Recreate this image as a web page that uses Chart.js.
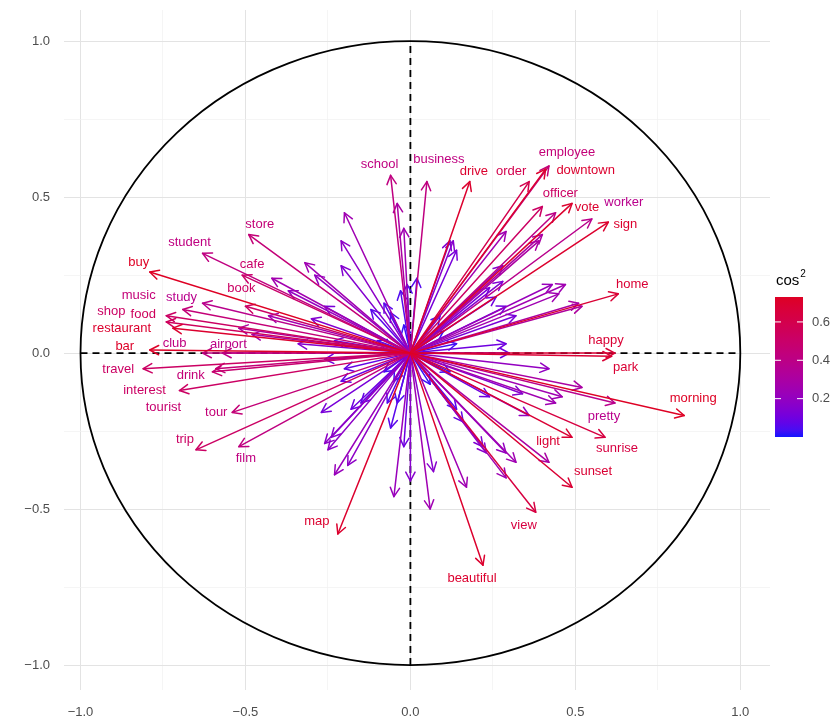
<!DOCTYPE html>
<html>
<head>
<meta charset="utf-8">
<script src="https://cdn.jsdelivr.net/npm/chart.js@4.4.0/dist/chart.umd.min.js"></script>
<style>
  html, body { margin: 0; padding: 0; background: #fff; }
  canvas { display: block; }
</style>
</head>
<body>
<canvas id="pcaChart" width="830" height="720"></canvas>
<script>
// variables with a label
const words = ["school", "business", "drive", "order", "employee", "downtown", "officer", "vote", "worker", "sign",
  "home", "happy", "park", "morning", "pretty", "sunrise", "light", "sunset", "view", "beautiful",
  "map", "trip", "film", "tour", "tourist", "interest", "drink", "travel", "bar", "club",
  "airport", "restaurant", "food", "shop", "music", "study", "book", "cafe", "buy", "student", "store"];
const wordDim1 = [-0.06, 0.05, 0.18, 0.36, 0.42, 0.41, 0.40, 0.49, 0.55, 0.60,
  0.63, 0.62, 0.61, 0.83, 0.62, 0.59, 0.49, 0.49, 0.38, 0.22,
  -0.22, -0.65, -0.52, -0.54, -0.60, -0.70, -0.59, -0.81, -0.79, -0.63,
  -0.57, -0.72, -0.74, -0.74, -0.69, -0.63, -0.50, -0.51, -0.79, -0.63, -0.49];
const wordDim2 = [0.57, 0.55, 0.55, 0.55, 0.60, 0.59, 0.47, 0.48, 0.43, 0.42,
  0.19, 0.00, -0.01, -0.20, -0.16, -0.27, -0.27, -0.43, -0.51, -0.68,
  -0.58, -0.31, -0.30, -0.19, -0.06, -0.12, -0.05, -0.05, 0.01, 0.00,
  0.00, 0.08, 0.10, 0.12, 0.14, 0.16, 0.15, 0.25, 0.26, 0.32, 0.38];
const wordCos2 = [0.42, 0.42, 0.70, 0.60, 0.45, 0.70, 0.52, 0.70, 0.38, 0.70,
  0.68, 0.68, 0.68, 0.73, 0.38, 0.64, 0.68, 0.68, 0.64, 0.70,
  0.70, 0.52, 0.42, 0.45, 0.48, 0.52, 0.45, 0.52, 0.72, 0.42,
  0.40, 0.70, 0.55, 0.52, 0.45, 0.38, 0.52, 0.50, 0.73, 0.42, 0.45];

// variables drawn without a label
const otherDim1 = [-0.04, -0.02, -0.20, -0.21, -0.21, -0.32, -0.29, -0.26, -0.12, -0.08,
  -0.03, -0.06, -0.42, -0.37, -0.30, -0.43, -0.48, -0.52, -0.23, -0.34,
  -0.26, -0.20, -0.21, -0.08, -0.27, -0.18, -0.15, -0.06, -0.24, -0.26,
  -0.25, -0.23, -0.19, -0.05, 0.00, -0.02, -0.04, -0.07,
  0.42, 0.52, 0.46, 0.44, 0.36, 0.24, 0.34, 0.42, 0.32, 0.29,
  0.23, 0.29, 0.17, 0.06, 0.07, 0.14, 0.16, 0.22, 0.30, 0.29,
  0.52, 0.51, 0.47, 0.45, 0.43, 0.29, 0.40, 0.39, 0.28, 0.28,
  0.24, 0.29, 0.32, 0.13, 0.12, 0.14, 0.02, -0.01, 0.44, 0.26,
  0.10, 0.14, -0.10, -0.05, 0.06, 0.12, -0.02, 0.09];
const otherDim2 = [0.48, 0.40, 0.45, 0.36, 0.28, 0.29, 0.25, 0.15, 0.14, 0.16,
  0.20, 0.13, 0.24, 0.20, 0.11, 0.12, 0.06, 0.08, 0.04, 0.03,
  -0.02, -0.05, -0.09, -0.06, -0.19, -0.18, -0.16, -0.24, -0.27, -0.29,
  -0.31, -0.39, -0.36, -0.46, -0.41, -0.30, -0.16, -0.16,
  -0.05, -0.11, -0.14, -0.16, -0.20, -0.14, -0.13, -0.35, -0.35, -0.32,
  -0.32, -0.40, -0.43, -0.50, -0.38, -0.18, -0.22, -0.30, 0.00, 0.03,
  0.15, 0.16, 0.22, 0.19, 0.22, 0.39, 0.38, 0.36, 0.28, 0.23,
  0.21, 0.15, 0.12, 0.36, 0.36, 0.33, 0.24, 0.22, 0.45, 0.18,
  0.07, 0.03, 0.04, -0.09, -0.10, -0.06, 0.09, 0.12];
const otherCos2 = [0.30, 0.25, 0.25, 0.18, 0.15, 0.25, 0.20, 0.12, 0.06, 0.06,
  0.05, 0.04, 0.26, 0.20, 0.15, 0.26, 0.28, 0.32, 0.08, 0.15,
  0.10, 0.08, 0.08, 0.03, 0.12, 0.10, 0.08, 0.06, 0.16, 0.18,
  0.18, 0.22, 0.18, 0.22, 0.16, 0.10, 0.04, 0.05,
  0.20, 0.30, 0.25, 0.25, 0.20, 0.10, 0.16, 0.30, 0.25, 0.20,
  0.16, 0.25, 0.25, 0.25, 0.16, 0.06, 0.08, 0.14, 0.10, 0.10,
  0.32, 0.30, 0.25, 0.25, 0.22, 0.25, 0.30, 0.30, 0.16, 0.14,
  0.12, 0.10, 0.12, 0.16, 0.14, 0.12, 0.05, 0.05, 0.40, 0.10,
  0.02, 0.03, 0.02, 0.02, 0.02, 0.03, 0.02, 0.03];

const axisTicks = [-1, -0.5, 0, 0.5, 1];
const legendTicks = [0.2, 0.4, 0.6];
const cos2Range = [0, 0.73];

// where each label sits next to its arrow tip (px)
const labelNudge = {
  school: [-11, -11], business: [12, -22], drive: [4, -10], order: [-18, -10], employee: [18, -14],
  downtown: [40, 1], officer: [18, -13], vote: [15, 4], worker: [32, -17], sign: [17, 2],
  home: [14, -9], happy: [-9, -13], park: [14, 11], morning: [9, -17], pretty: [-11, 13],
  sunrise: [12, 11], light: [-24, 4], sunset: [21, -16], view: [-12, 13], beautiful: [-11, 13],
  map: [-21, -13], trip: [-11, -10], film: [7, 12], tour: [-16, 0], tourist: [-49, 36],
  interest: [-35, 0], drink: [-25, 7], travel: [-25, 1], bar: [-25, -4], club: [-28, -10],
  airport: [6, -9], restaurant: [-51, 0], food: [-23, -8], shop: [-55, -4], music: [-44, -14],
  study: [-21, -6], book: [-4, -18], cafe: [10, -11], buy: [-11, -10], student: [-13, -11], store: [11, -10]
};

// blue -> crimson gradient, interpolated in Lab like ggplot does
function toLinear(c) { c /= 255; return c <= 0.04045 ? c / 12.92 : Math.pow((c + 0.055) / 1.055, 2.4); }
function fromLinear(c) { const v = c <= 0.0031308 ? 12.92 * c : 1.055 * Math.pow(c, 1 / 2.4) - 0.055; return Math.round(Math.min(1, Math.max(0, v)) * 255); }
function rgbToLab(rgb) {
  const [r, g, b] = rgb.map(toLinear);
  let x = (r * 0.4124 + g * 0.3576 + b * 0.1805) / 0.95047;
  let y = (r * 0.2126 + g * 0.7152 + b * 0.0722);
  let z = (r * 0.0193 + g * 0.1192 + b * 0.9505) / 1.08883;
  const f = (t) => t > 0.008856 ? Math.cbrt(t) : 7.787 * t + 16 / 116;
  x = f(x); y = f(y); z = f(z);
  return [116 * y - 16, 500 * (x - y), 200 * (y - z)];
}
function labToRgb(lab) {
  const fy = (lab[0] + 16) / 116, fx = fy + lab[1] / 500, fz = fy - lab[2] / 200;
  const inv = (t) => t * t * t > 0.008856 ? t * t * t : (t - 16 / 116) / 7.787;
  const x = inv(fx) * 0.95047, y = inv(fy), z = inv(fz) * 1.08883;
  const r = x * 3.2406 + y * -1.5372 + z * -0.4986;
  const g = x * -0.9689 + y * 1.8758 + z * 0.0415;
  const b = x * 0.0557 + y * -0.2040 + z * 1.0570;
  return [fromLinear(r), fromLinear(g), fromLinear(b)];
}
const LOW_LAB = rgbToLab([20, 20, 255]);
const HIGH_LAB = rgbToLab([222, 0, 36]);
function cos2Color(v) {
  let t = (v - cos2Range[0]) / (cos2Range[1] - cos2Range[0]);
  t = Math.max(0, Math.min(1, t));
  const lab = LOW_LAB.map((l, i) => l + (HIGH_LAB[i] - l) * t);
  const c = labToRgb(lab);
  return `rgb(${c[0]},${c[1]},${c[2]})`;
}

const wordPoints = words.map((w, i) => ({ x: wordDim1[i], y: wordDim2[i], label: w, cos2: wordCos2[i] }));
const otherPoints = otherDim1.map((x, i) => ({ x: x, y: otherDim2[i], label: null, cos2: otherCos2[i] }));

function isMajor(v) { return Math.abs(v * 2 - Math.round(v * 2)) < 1e-6; }
function fmt(v) { return v.toFixed(1).replace("-", "\u2212"); }

// circle + dashed axes under the arrows
const circlePlugin = {
  id: "circle",
  beforeDatasetsDraw(chart) {
    const { ctx, scales } = chart;
    const cx = scales.x.getPixelForValue(0), cy = scales.y.getPixelForValue(0);
    const rx = scales.x.getPixelForValue(1) - cx, ry = cy - scales.y.getPixelForValue(1);
    ctx.save();
    ctx.strokeStyle = "#000";
    ctx.lineWidth = 1.8;
    ctx.beginPath();
    ctx.ellipse(cx, cy, rx, ry, 0, 0, Math.PI * 2);
    ctx.stroke();
    ctx.setLineDash([7, 5]);
    ctx.beginPath();
    ctx.moveTo(scales.x.getPixelForValue(-1), cy);
    ctx.lineTo(scales.x.getPixelForValue(1), cy);
    ctx.moveTo(cx, scales.y.getPixelForValue(-1));
    ctx.lineTo(cx, scales.y.getPixelForValue(1));
    ctx.stroke();
    ctx.restore();
  }
};

function drawArrow(ctx, x0, y0, x1, y1, color) {
  const a = Math.atan2(y1 - y0, x1 - x0);
  const L = 10, spread = Math.PI / 6.5;
  ctx.strokeStyle = color;
  ctx.beginPath();
  ctx.moveTo(x0, y0);
  ctx.lineTo(x1, y1);
  ctx.stroke();
  ctx.beginPath();
  ctx.moveTo(x1 - L * Math.cos(a - spread), y1 - L * Math.sin(a - spread));
  ctx.lineTo(x1, y1);
  ctx.lineTo(x1 - L * Math.cos(a + spread), y1 - L * Math.sin(a + spread));
  ctx.stroke();
}

const arrowPlugin = {
  id: "arrows",
  afterDatasetsDraw(chart) {
    const { ctx, scales } = chart;
    const cx = scales.x.getPixelForValue(0), cy = scales.y.getPixelForValue(0);
    const items = [];
    chart.data.datasets.forEach((ds, di) => {
      const meta = chart.getDatasetMeta(di);
      meta.data.forEach((el, j) => items.push({ el: el, d: ds.data[j] }));
    });
    items.sort((a, b) => a.d.cos2 - b.d.cos2);
    ctx.save();
    ctx.lineWidth = 1.5;
    ctx.lineCap = "round";
    ctx.lineJoin = "round";
    items.forEach((it) => drawArrow(ctx, cx, cy, it.el.x, it.el.y, cos2Color(it.d.cos2)));

    ctx.font = '13px "Liberation Sans", Arial, sans-serif';
    ctx.textAlign = "center";
    ctx.textBaseline = "middle";
    items.forEach((it) => {
      if (!it.d.label) return;
      const n = labelNudge[it.d.label] || [0, -10];
      ctx.fillStyle = cos2Color(it.d.cos2);
      ctx.fillText(it.d.label, it.el.x + n[0], it.el.y + n[1]);
    });
    ctx.restore();
  }
};

// colour bar on the right
const legendPlugin = {
  id: "cos2Legend",
  afterDraw(chart) {
    const ctx = chart.ctx;
    const left = 775, width = 28, top = 297, bottom = 437;
    ctx.save();
    const grad = ctx.createLinearGradient(0, bottom, 0, top);
    for (let k = 0; k <= 20; k++) {
      const v = cos2Range[0] + (cos2Range[1] - cos2Range[0]) * k / 20;
      grad.addColorStop(k / 20, cos2Color(v));
    }
    ctx.fillStyle = grad;
    ctx.fillRect(left, top, width, bottom - top);
    ctx.strokeStyle = "#fff";
    ctx.lineWidth = 1;
    ctx.fillStyle = "#4d4d4d";
    ctx.font = '13px "Liberation Sans", Arial, sans-serif';
    ctx.textAlign = "left";
    ctx.textBaseline = "middle";
    legendTicks.forEach((v) => {
      const y = bottom - (v - cos2Range[0]) / (cos2Range[1] - cos2Range[0]) * (bottom - top);
      ctx.beginPath();
      ctx.moveTo(left, y); ctx.lineTo(left + 6, y);
      ctx.moveTo(left + width - 6, y); ctx.lineTo(left + width, y);
      ctx.stroke();
      ctx.fillText(v.toFixed(1), left + width + 9, y);
    });
    ctx.fillStyle = "#000";
    ctx.textBaseline = "alphabetic";
    ctx.font = '15px "Liberation Sans", Arial, sans-serif';
    ctx.fillText("cos", left + 1, 285);
    const w = ctx.measureText("cos").width;
    ctx.font = '10px "Liberation Sans", Arial, sans-serif';
    ctx.fillText("2", left + 1 + w + 1, 277);
    ctx.restore();
  }
};

const gridColor = (c) => isMajor(c.tick.value) ? "#e3e3e3" : "#f1f1f1";
const gridWidth = (c) => isMajor(c.tick.value) ? 1 : 0.7;
const tickFont = { family: '"Liberation Sans", Arial, sans-serif', size: 13 };

new Chart(document.getElementById("pcaChart"), {
  type: "scatter",
  data: {
    datasets: [
      { label: "others", data: otherPoints, pointRadius: 0 },
      { label: "words", data: wordPoints, pointRadius: 0 }
    ]
  },
  options: {
    responsive: false,
    animation: false,
    events: [],
    layout: { padding: { left: 0, right: 60, top: 10, bottom: 0 } },
    plugins: { legend: { display: false }, tooltip: { enabled: false } },
    scales: {
      x: {
        type: "linear",
        min: -1.05,
        max: 1.09,
        afterFit: (s) => { s.height = 30; s.paddingLeft = 0; s.paddingRight = 0; },
        border: { display: false },
        grid: { color: gridColor, lineWidth: gridWidth, drawTicks: false },
        ticks: {
          stepSize: 0.25,
          includeBounds: false,
          autoSkip: false,
          maxRotation: 0,
          padding: 15,
          color: "#4d4d4d",
          font: tickFont,
          callback: (v) => axisTicks.some((t) => Math.abs(t - v) < 1e-6) ? fmt(v) : ""
        }
      },
      y: {
        type: "linear",
        min: -1.08,
        max: 1.1,
        afterFit: (s) => { s.width = 64; s.paddingTop = 0; s.paddingBottom = 0; },
        border: { display: false },
        grid: { color: gridColor, lineWidth: gridWidth, drawTicks: false },
        ticks: {
          stepSize: 0.25,
          includeBounds: false,
          autoSkip: false,
          padding: 14,
          color: "#4d4d4d",
          font: tickFont,
          callback: (v) => axisTicks.some((t) => Math.abs(t - v) < 1e-6) ? fmt(v) : ""
        }
      }
    }
  },
  plugins: [circlePlugin, arrowPlugin, legendPlugin]
});
</script>
</body>
</html>
